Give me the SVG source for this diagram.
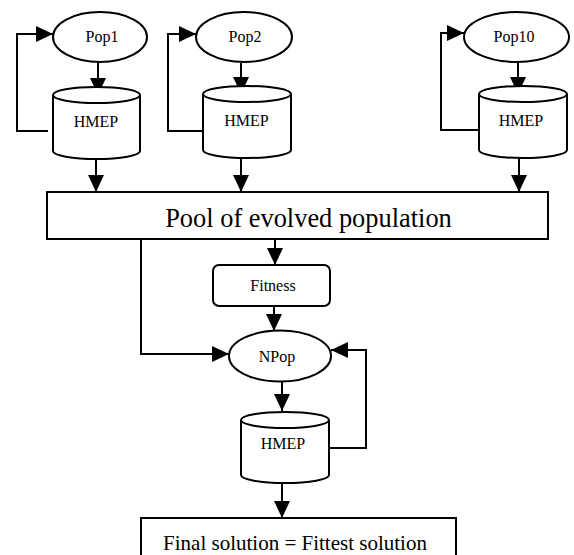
<svg xmlns="http://www.w3.org/2000/svg" width="574" height="555" viewBox="0 0 574 555">
  <style>
    .shape { fill: #ffffff; stroke: #000000; stroke-width: 2; }
    .wire { fill: none; stroke: #000000; stroke-width: 2; }
    .lbl { font-family: "Liberation Serif", "Times New Roman", serif; fill: #000000; text-anchor: middle; }
    .sm { font-size: 16px; }
  </style>
  <defs>
    <marker id="arrow" markerUnits="userSpaceOnUse" markerWidth="18" markerHeight="18" refX="17" refY="8" orient="auto">
      <path d="M0,0 L17,8 L0,16 z" fill="#000000"/>
    </marker>
  </defs>

  <!-- connectors -->
  <g id="connectors" class="wire" marker-end="url(#arrow)">
    <!-- population loops -->
    <polyline points="48,131 17,131 17,34 53,34"/>
    <polyline points="203,131 168,131 168,34 196,34"/>
    <polyline points="479,130 441,130 441,33 464,33"/>
    <!-- population to HMEP -->
    <line x1="98" y1="63" x2="98" y2="95"/>
    <line x1="241" y1="63" x2="241" y2="94"/>
    <line x1="518" y1="63" x2="518" y2="94"/>
    <!-- HMEP to pool -->
    <line x1="96" y1="159" x2="96" y2="192"/>
    <line x1="241" y1="158" x2="241" y2="192"/>
    <line x1="519" y1="158" x2="519" y2="192"/>
    <!-- pool to fitness / NPop -->
    <line x1="275" y1="239" x2="275" y2="265"/>
    <line x1="274" y1="306" x2="274" y2="331"/>
    <polyline points="141,239 141,354 229,354"/>
    <!-- NPop cycle -->
    <line x1="282" y1="382" x2="282" y2="411"/>
    <polyline points="329,448 366,448 366,350 331,350"/>
    <!-- to final solution -->
    <line x1="282" y1="483" x2="282" y2="518"/>
  </g>

  <!-- population nodes -->
  <g id="pop1">
    <ellipse class="shape" cx="100" cy="37" rx="47" ry="25"/>
    <text class="lbl sm" x="102" y="42">Pop1</text>
  </g>
  <g id="pop2">
    <ellipse class="shape" cx="244" cy="37" rx="48" ry="25"/>
    <text class="lbl sm" x="245" y="42">Pop2</text>
  </g>
  <g id="pop10">
    <ellipse class="shape" cx="516.5" cy="37" rx="52.5" ry="25"/>
    <text class="lbl sm" x="514" y="42">Pop10</text>
  </g>

  <!-- HMEP cylinders -->
  <g id="hmep1">
    <path class="shape" d="M53,95 L53,151 A43.5,8 0 0 0 140,151 L140,95 A43.5,8 0 0 0 53,95 Z"/>
    <path class="wire" d="M53,95 A43.5,8 0 0 0 140,95"/>
    <text class="lbl sm" x="96" y="127">HMEP</text>
  </g>
  <g id="hmep2">
    <path class="shape" d="M203,94 L203,150 A44,8 0 0 0 291,150 L291,94 A44,8 0 0 0 203,94 Z"/>
    <path class="wire" d="M203,94 A44,8 0 0 0 291,94"/>
    <text class="lbl sm" x="246.5" y="126">HMEP</text>
  </g>
  <g id="hmep10">
    <path class="shape" d="M479,94 L479,150 A44,8 0 0 0 567,150 L567,94 A44,8 0 0 0 479,94 Z"/>
    <path class="wire" d="M479,94 A44,8 0 0 0 567,94"/>
    <text class="lbl sm" x="521" y="126">HMEP</text>
  </g>

  <!-- pool -->
  <g id="pool">
    <rect class="shape" x="47" y="192" width="501" height="47"/>
    <text class="lbl" x="308.5" y="227" font-size="26.4">Pool of evolved population</text>
  </g>

  <!-- fitness -->
  <g id="fitness">
    <rect class="shape" x="213" y="265" width="117" height="41" rx="6" ry="6"/>
    <text class="lbl sm" x="273" y="291">Fitness</text>
  </g>

  <!-- new population -->
  <g id="npop">
    <ellipse class="shape" cx="280" cy="356" rx="51" ry="25.5"/>
    <text class="lbl sm" x="277" y="362">NPop</text>
  </g>

  <g id="hmep-final">
    <path class="shape" d="M241,420 L241,475 A44,8 0 0 0 329,475 L329,420 A44,8 0 0 0 241,420 Z"/>
    <path class="wire" d="M241,420 A44,8 0 0 0 329,420"/>
    <text class="lbl sm" x="283" y="449">HMEP</text>
  </g>

  <!-- final solution -->
  <g id="final">
    <rect class="shape" x="141" y="518" width="315" height="45"/>
    <text class="lbl" x="295" y="550" font-size="21">Final solution = Fittest solution</text>
  </g>
</svg>
